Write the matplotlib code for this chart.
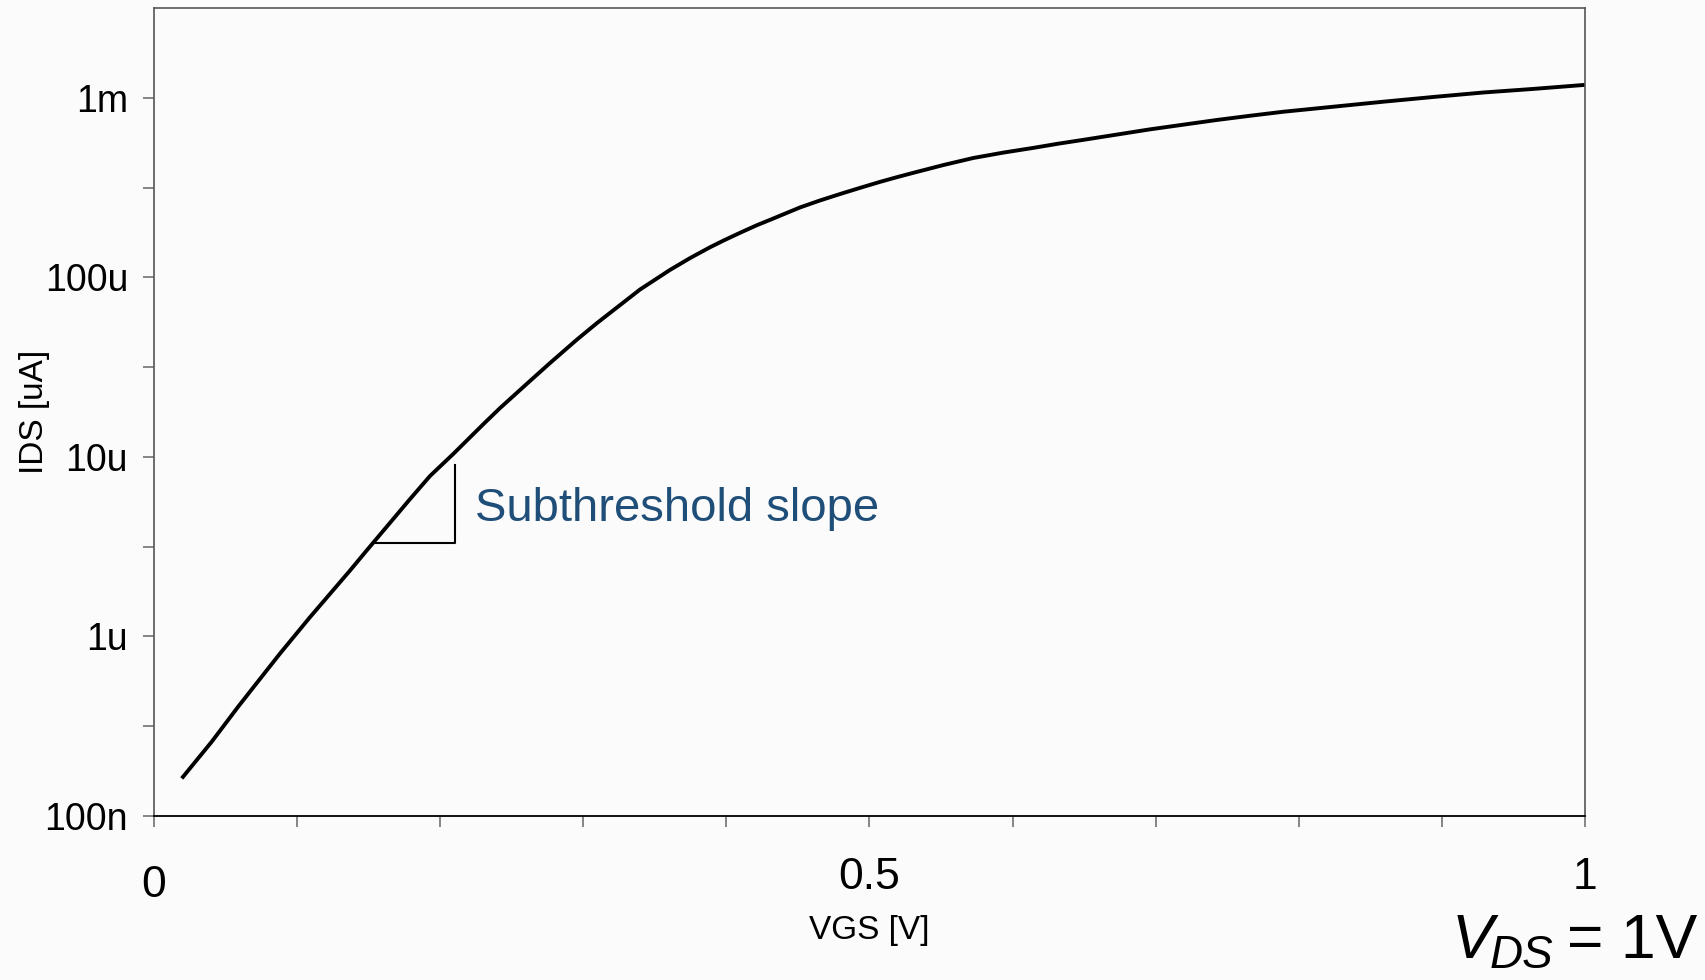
import numpy as np
import matplotlib
matplotlib.use("Agg")
import matplotlib.pyplot as plt
from matplotlib import font_manager
from matplotlib.ticker import FixedLocator, NullFormatter
from matplotlib.transforms import ScaledTranslation

plt.rcParams['font.family'] = ['Liberation Sans', 'DejaVu Sans']

# Transfer curve (VDS = 1 V)
vgs = [0.0194, 0.0403, 0.0589, 0.0706, 0.0881, 0.109, 0.137, 0.1486, 0.1789,
       0.1929, 0.2092, 0.2301, 0.2418, 0.2628, 0.2767, 0.2954, 0.3094, 0.3396,
       0.3606, 0.3746, 0.3885, 0.3978, 0.4095, 0.4212, 0.4305, 0.4514, 0.4654,
       0.4794, 0.4934, 0.5073, 0.519, 0.5306, 0.5516, 0.5725, 0.5935, 0.6145,
       0.6319, 0.6494, 0.696, 0.7426, 0.7659, 0.7892, 0.8591, 0.8938, 0.9289,
       0.9637, 1.0]
ids = [1.62e-7, 2.59e-7, 4.07e-7, 5.35e-7, 8.04e-7, 1.28e-6, 2.33e-6, 3.01e-6,
       5.82e-6, 7.83e-6, 1.04e-5, 1.52e-5, 1.87e-5, 2.65e-5, 3.33e-5, 4.49e-5,
       5.55e-5, 8.55e-5, 1.10e-4, 1.28e-4, 1.47e-4, 1.60e-4, 1.77e-4, 1.95e-4,
       2.09e-4, 2.45e-4, 2.68e-4, 2.91e-4, 3.15e-4, 3.40e-4, 3.61e-4, 3.82e-4,
       4.22e-4, 4.62e-4, 4.95e-4, 5.26e-4, 5.55e-4, 5.83e-4, 6.67e-4, 7.52e-4,
       7.94e-4, 8.36e-4, 9.51e-4, 1.01e-3, 1.07e-3, 1.12e-3, 1.18e-3]

y_ticks = [1e-7, 1e-6, 1e-5, 1e-4, 1e-3]
y_labels = ['100n', '1u', '10u', '100u', '1m']
x_ticks = [0, 0.5, 1]
x_labels = ['0', '0.5', '1']

W, H = 1706, 980
bg = '#fbfbfb'
fig = plt.figure(figsize=(W / 100, H / 100), dpi=100, facecolor=bg)
ax = fig.add_axes([154 / W, 1 - 816 / H, 1431 / W, 808 / H], facecolor=bg)

ax.plot(vgs, ids, color='black', lw=2.8, solid_capstyle='butt', solid_joinstyle='round')

# slope triangle + label
ax.plot([0.1541, 0.2103, 0.2103], [3.33e-6, 3.33e-6, 9.03e-6], color='black', lw=1.5)
ax.text(0.2243, 4.41e-6, 'Subthreshold slope', color='#1f4e79', fontsize=34,
        ha='left', va='baseline')

ax.set_yscale('log')
ax.set_xlim(0, 1)
ax.set_ylim(1e-7, 10 ** -2.5)

ax.yaxis.set_major_locator(FixedLocator(y_ticks))
ax.set_yticklabels(y_labels)
ax.yaxis.set_minor_locator(FixedLocator([10 ** (e + 0.5) for e in range(-7, -3)]))
ax.yaxis.set_minor_formatter(NullFormatter())

ax.set_xticks(x_ticks)
ax.set_xticklabels(x_labels)
ax.xaxis.set_minor_locator(FixedLocator(np.arange(0.1, 1.0, 0.1)))

# tick labels in the reference are a condensed sans
names = {f.name for f in font_manager.fontManager.ttflist}
if 'Liberation Sans Narrow' in names:
    tick_family, ysize, xsize = ['Liberation Sans Narrow'], 32, 34
else:
    tick_family, ysize, xsize = ['Liberation Sans'], 27, 32

ax.tick_params(axis='y', which='both', direction='out', length=7.7, width=1.1,
               color='#666666', labelsize=ysize, pad=11)
ax.tick_params(axis='x', which='both', direction='out', length=7.7, width=1.1,
               color='#666666', labelsize=xsize, pad=22)
for lbl in ax.get_xticklabels() + ax.get_yticklabels():
    lbl.set_fontfamily(tick_family)

# the "0" label sits a little lower than the others
zero = ax.get_xticklabels()[0]
zero.set_transform(zero.get_transform() + ScaledTranslation(0, -0.08, fig.dpi_scale_trans))

for side in ['left', 'top', 'right']:
    ax.spines[side].set_color('#555555')
    ax.spines[side].set_linewidth(1.2)
ax.spines['bottom'].set_color('#111111')
ax.spines['bottom'].set_linewidth(1.4)

ax.set_xlabel('VGS [V]', fontsize=24)
ax.xaxis.set_label_coords(0.5, -0.1225)
ax.set_ylabel('IDS [uA]', fontsize=24)
ax.yaxis.set_label_coords(-0.0727, 0.5)

# V_DS = 1V note in the lower right corner
fig.text(1452 / W, 1 - 958 / H, 'V', fontsize=45, style='italic', ha='left', va='baseline')
fig.text(1490 / W, 1 - 968 / H, 'DS', fontsize=33, style='italic', ha='left', va='baseline')
fig.text(1697 / W, 1 - 958 / H, '= 1V', fontsize=45, ha='right', va='baseline')

fig.savefig('out.png', dpi=100, facecolor=bg)
